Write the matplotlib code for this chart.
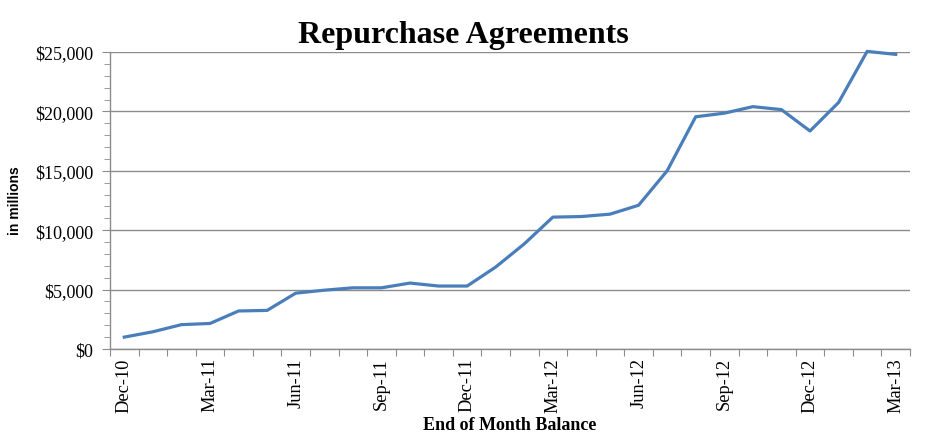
import matplotlib
matplotlib.use("Agg")
import matplotlib.pyplot as plt
from matplotlib.ticker import FuncFormatter, MultipleLocator, FixedLocator

months = ["Dec-10", "Jan-11", "Feb-11", "Mar-11", "Apr-11", "May-11", "Jun-11",
          "Jul-11", "Aug-11", "Sep-11", "Oct-11", "Nov-11", "Dec-11", "Jan-12",
          "Feb-12", "Mar-12", "Apr-12", "May-12", "Jun-12", "Jul-12", "Aug-12",
          "Sep-12", "Oct-12", "Nov-12", "Dec-12", "Jan-13", "Feb-13", "Mar-13"]
balances = [1000, 1450, 2050, 2150, 3200, 3250, 4700, 4950, 5150, 5150, 5550,
            5300, 5300, 6900, 8850, 11100, 11150, 11350, 12100, 15000, 19550,
            19850, 20400, 20150, 18350, 20750, 25050, 24800]

serif = "Liberation Serif"
sans = "Liberation Sans"

fig = plt.figure(figsize=(9.27, 4.35), dpi=100)
ax = fig.add_axes([110/927, 1-350/435, 800/927, 297/435])

x = list(range(len(months)))
ax.plot(x, balances, color="#4A7EBB", lw=2.3, solid_joinstyle="round", clip_on=False, zorder=3)

ax.set_xlim(-0.5, len(months) - 0.5)
ax.set_ylim(0, 25000)

ax.yaxis.set_major_locator(MultipleLocator(5000))
ax.yaxis.set_minor_locator(MultipleLocator(1000))
ax.yaxis.set_major_formatter(FuncFormatter(lambda v, p: "${:,.0f}".format(v)))
ax.grid(axis="y", which="major", color="#8C8C8C", lw=1.0)
ax.set_axisbelow(True)

# boundary ticks (major, unlabeled), label positions (minor, no tick marks)
ax.xaxis.set_major_locator(FixedLocator([i - 0.5 for i in range(len(months) + 1)]))
ax.xaxis.set_major_formatter(FuncFormatter(lambda v, p: ""))
label_idx = list(range(0, len(months), 3))
ax.xaxis.set_minor_locator(FixedLocator(label_idx))
ax.set_xticklabels([months[i] for i in label_idx], minor=True)
ax.tick_params(axis="x", which="major", length=5, color="#8C8C8C", direction="out")
ax.tick_params(axis="x", which="minor", length=0, pad=6)
for lab in ax.get_xticklabels(minor=True):
    lab.set_rotation(90)
    lab.set_fontfamily(serif)
    lab.set_fontsize(13.2)
    lab.set_va("top")
    lab.set_ha("center")

ax.tick_params(axis="y", which="major", length=6, color="#8C8C8C", pad=6)
ax.tick_params(axis="y", which="minor", length=4, color="#8C8C8C")
for lab in ax.get_yticklabels():
    lab.set_fontfamily(serif)
    lab.set_fontsize(13)

for s in ["top", "right"]:
    ax.spines[s].set_visible(False)
for s in ["left", "bottom"]:
    ax.spines[s].set_color("#8C8C8C")
    ax.spines[s].set_linewidth(1.0)

fig.text(0.5, 1 - 43/435, "Repurchase Agreements", ha="center", va="baseline",
         fontfamily=serif, fontweight="bold", fontsize=23)
fig.text(15/927, 1 - 201/435, "in millions", rotation=90, ha="center", va="center",
         fontfamily=sans, fontweight="bold", fontsize=10)
fig.text(510/927, 1 - 430/435, "End of Month Balance", ha="center", va="baseline",
         fontfamily=serif, fontweight="bold", fontsize=13)

fig.savefig("out.png", dpi=100)
